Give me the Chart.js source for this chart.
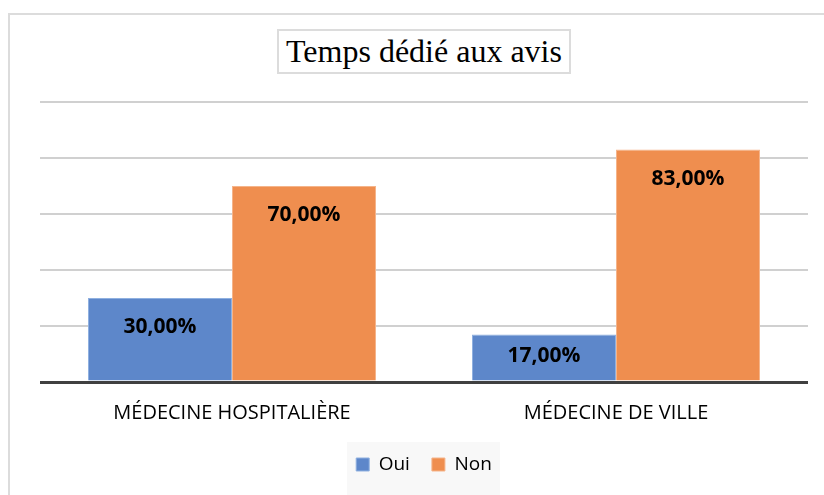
<!DOCTYPE html>
<html>
<head>
<meta charset="utf-8">
<script src="https://cdn.jsdelivr.net/npm/chart.js@4.4.0/dist/chart.umd.min.js"></script>
<style>
  html, body { margin: 0; padding: 0; background: #fff; }
  #wrap { position: relative; width: 824px; height: 495px; overflow: hidden; }
  #frame { position: absolute; left: 8px; top: 13px; width: 840px; height: 500px;
           border-left: 2px solid #dcdcdc; border-top: 2px solid #dcdcdc; }
  #legendBg { position: absolute; left: 347px; top: 442px; width: 153px; height: 60px; background: #f8f8f8; }
  #title { position: absolute; left: 277px; top: 29px; width: 290px; height: 41px;
           border: 2px solid #dcdcdc; font-family: "Liberation Serif", "DejaVu Serif", serif;
           font-size: 32px; line-height: 41px; text-align: center; color: #000; }
  canvas { position: absolute; left: 0; top: 0; }
</style>
</head>
<body>
<div id="wrap">
  <div id="frame"></div>
  <div id="legendBg"></div>
  <div id="title">Temps dédié aux avis</div>
  <canvas id="myChart" width="824" height="495"></canvas>
</div>
<script>
// data
const categories = ['MÉDECINE HOSPITALIÈRE', 'MÉDECINE DE VILLE'];
const oui = [30, 17];
const non = [70, 83];
const yTicks = [0, 20, 40, 60, 80, 100];

const blue = '#5d87ca';
const orange = '#ef8e4f';

// value labels inside the bars, near the top
const barLabels = {
  id: 'barLabels',
  afterDatasetsDraw(chart) {
    const ctx = chart.ctx;
    ctx.save();
    ctx.font = 'bold 21px "Open Sans", sans-serif';
    ctx.fillStyle = '#000';
    ctx.textAlign = 'center';
    ctx.textBaseline = 'middle';
    chart.data.datasets.forEach((ds, i) => {
      chart.getDatasetMeta(i).data.forEach((bar, j) => {
        let y = Math.min(bar.y + 29, (bar.y + bar.base) / 2 - 1);
        ctx.fillText(ds.data[j].toFixed(2).replace('.', ',') + '%', bar.x, y);
      });
    });
    ctx.restore();
  }
};

new Chart(document.getElementById('myChart'), {
  type: 'bar',
  data: {
    labels: categories,
    datasets: [
      { label: 'Oui', data: oui, backgroundColor: blue, borderColor: '#8fb0e0', borderWidth: 1,
        categoryPercentage: 0.75, barPercentage: 1.0 },
      { label: 'Non', data: non, backgroundColor: orange, borderColor: '#f5b48a', borderWidth: 1,
        categoryPercentage: 0.75, barPercentage: 1.0 }
    ]
  },
  options: {
    responsive: false,
    animation: false,
    layout: { padding: { left: 40, right: 16, top: 102, bottom: 11 } },
    plugins: {
      title: { display: false },
      tooltip: { enabled: false },
      legend: {
        display: true,
        position: 'bottom',
        labels: {
          color: '#000',
          font: { family: '"Open Sans", sans-serif', size: 19 },
          boxWidth: 13, boxHeight: 13, padding: 22,
          useBorderRadius: false
        }
      }
    },
    scales: {
      x: {
        afterFit(axis) { axis.height = 51; },
        grid: { display: false },
        border: { display: false },
        ticks: { color: '#000', font: { family: '"Open Sans", sans-serif', size: 20 }, padding: 11 }
      },
      y: {
        min: 0, max: 100,
        afterBuildTicks(axis) { axis.ticks = yTicks.map(v => ({ value: v })); },
        ticks: { display: false },
        border: { display: false },
        grid: {
          drawTicks: false,
          color: ctx => ctx.tick.value === 0 ? '#404040' : '#d0d0d0',
          lineWidth: ctx => ctx.tick.value === 0 ? 3 : 2
        }
      }
    }
  },
  plugins: [barLabels]
});
</script>
</body>
</html>
